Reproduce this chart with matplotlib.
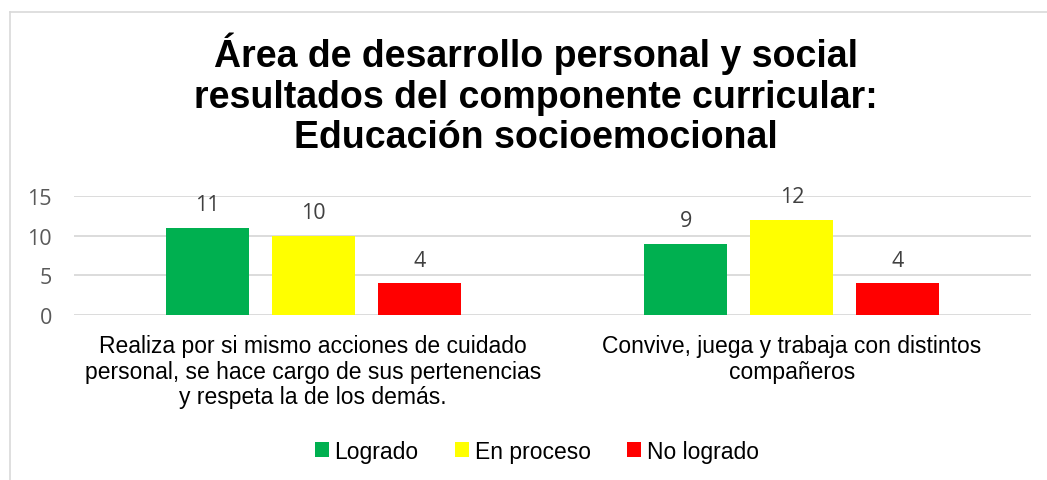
import matplotlib
matplotlib.use("Agg")
import matplotlib.pyplot as plt
from matplotlib.lines import Line2D
import numpy as np

categories = [
    "Realiza por si mismo acciones de cuidado\npersonal, se hace cargo de sus pertenencias\ny respeta la de los demás.",
    "Convive, juega y trabaja con distintos\ncompañeros",
]
series_names = ["Logrado", "En proceso", "No logrado"]
logrado = [11, 9]
en_proceso = [10, 12]
no_logrado = [4, 4]
yticks = [0, 5, 10, 15]
title_lines = [
    "Área de desarrollo personal y social",
    "resultados del componente curricular:",
    "Educación socioemocional",
]

colors = ["#00B050", "#FFFF00", "#FF0000"]
W, H = 1047, 481
DPI = 100
fig = plt.figure(figsize=(W / DPI, H / DPI), dpi=DPI)

def fx(px):
    return px / W

def fy(py):
    return 1 - py / H

# outer frame (top and left visible)
fig.add_artist(Line2D([fx(10), fx(10)], [fy(13), 0], color="#d9d9d9", lw=1.2, transform=fig.transFigure))
fig.add_artist(Line2D([fx(10), 1], [fy(13), fy(13)], color="#d9d9d9", lw=1.2, transform=fig.transFigure))

ax = fig.add_axes([fx(74), fy(316), fx(1031) - fx(74), fy(197) - fy(316)])

x = np.arange(len(categories))
bw = 0.1735
off = 0.2215
all_series = [logrado, en_proceso, no_logrado]
containers = []
for i, (vals, c, name) in enumerate(zip(all_series, colors, series_names)):
    bars = ax.bar(x + (i - 1) * off, vals, width=bw, color=c, label=name, zorder=3)
    containers.append(bars)
    for xi, v in zip(x + (i - 1) * off, vals):
        ax.annotate(str(v), (xi, v), xytext=(0, 12.5), textcoords="offset points",
                    ha="center", va="baseline", fontsize=15.5, color="#404040",
                    family="Open Sans")

ax.set_xlim(-0.5, 1.5)
ax.set_ylim(0, 15)
ax.set_yticks(yticks)
ax.set_yticklabels([str(t) for t in yticks], fontsize=15.5, color="#595959", family="Open Sans")
ax.yaxis.grid(True, color="#d9d9d9", lw=1.3, zorder=0)
ax.set_axisbelow(True)
ax.tick_params(axis="y", length=0, pad=16)
ax.set_xticks(x)
ax.set_xticklabels(categories, fontsize=16.5, family="Liberation Sans", color="black",
                   linespacing=1.12)
ax.tick_params(axis="x", length=0, pad=14)
for s in ax.spines.values():
    s.set_visible(False)

# title
for ty, line in zip([67, 108, 148], title_lines):
    fig.text(fx(536), fy(ty), line, ha="center", va="baseline", fontsize=27,
             fontweight="bold", family="Liberation Sans", color="black")

leg = fig.legend(handles=containers, labels=series_names, loc="center",
                 bbox_to_anchor=(fx(537), fy(452)), ncol=3, frameon=False,
                 prop={"family": "Liberation Sans", "size": 16.5},
                 handlelength=0.6, handleheight=0.6, handletextpad=0.25,
                 columnspacing=1.6)

fig.savefig("out.png", dpi=DPI)
